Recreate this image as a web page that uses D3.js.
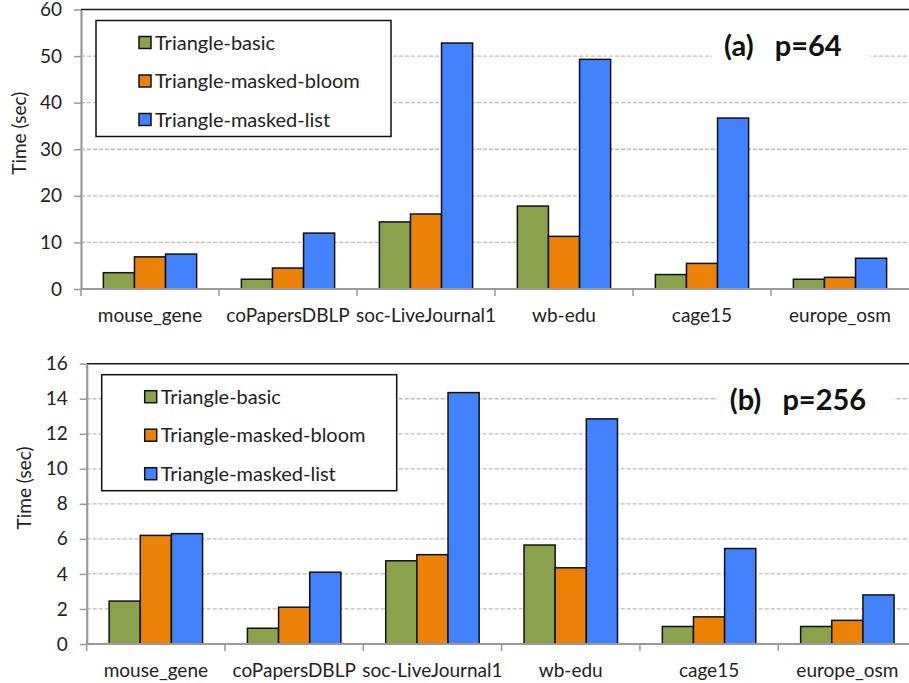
<!DOCTYPE html>
<html>
<head>
<meta charset="utf-8">
<script src="https://cdn.jsdelivr.net/npm/d3@7"></script>
<style>
  body { margin: 0; background: #fff; }
  svg { display: block; font-family: Lato, "Open Sans", sans-serif; }
</style>
</head>
<body>
<svg id="chart" width="909" height="683"></svg>
<script>
// datasets on the x axis
const categories = ["mouse_gene", "coPapersDBLP", "soc-LiveJournal1", "wb-edu", "cage15", "europe_osm"];
const seriesNames = ["Triangle-basic", "Triangle-masked-bloom", "Triangle-masked-list"];
const seriesColors = ["#8aa24c", "#ec8108", "#4282fd"];

// (a) p=64, time in sec
const basic64 = [3.5, 2.1, 14.4, 17.8, 3.1, 2.1];
const bloom64 = [6.9, 4.5, 16.1, 11.3, 5.5, 2.5];
const list64 = [7.5, 12.0, 52.8, 49.3, 36.7, 6.6];
const ticks64 = [0, 10, 20, 30, 40, 50, 60];

// (b) p=256, time in sec
const basic256 = [2.45, 0.9, 4.75, 5.65, 1.0, 1.0];
const bloom256 = [6.2, 2.1, 5.1, 4.35, 1.55, 1.35];
const list256 = [6.3, 4.1, 14.35, 12.85, 5.45, 2.8];
const ticks256 = [0, 2, 4, 6, 8, 10, 12, 14, 16];

let svg = d3.select("#chart");

function drawPanel(opts) {
  let g = svg.append("g");
  let series = [opts.basic, opts.bloom, opts.list];
  let yMax = opts.ticks[opts.ticks.length - 1];

  let x = d3.scaleBand()
    .domain(categories)
    .range([opts.left, opts.left + opts.step * categories.length]);

  let xi = d3.scaleBand()
    .domain(seriesNames)
    .range([0, x.bandwidth()])
    .paddingOuter(0.72);

  let y = d3.scaleLinear()
    .domain([0, yMax])
    .range([opts.bottom, opts.top]);

  let right = opts.left + opts.step * categories.length;

  // dashed grid lines
  g.append("g").selectAll("line")
    .data(opts.ticks.filter(t => t > 0 && t < yMax))
    .enter().append("line")
    .attr("x1", opts.left).attr("x2", right)
    .attr("y1", d => y(d)).attr("y2", d => y(d))
    .attr("stroke", "#bdbdbd")
    .attr("stroke-width", 1.3)
    .attr("stroke-dasharray", "4,2");

  // solid line at the top
  g.append("line")
    .attr("x1", opts.left).attr("x2", right)
    .attr("y1", y(yMax)).attr("y2", y(yMax))
    .attr("stroke", "#1a1a1a")
    .attr("stroke-width", 1.5);

  // title with white background (hides grid line behind it)
  let title = g.append("text")
    .attr("x", opts.left + 643)
    .attr("y", y(yMax) + 46)
    .attr("font-weight", "bold")
    .attr("font-size", 29)
    .attr("fill", "#111")
    .attr("xml:space", "preserve")
    .text(opts.title);
  let bb = title.node().getBBox();
  g.insert("rect", "text")
    .attr("x", bb.x - 12).attr("y", bb.y)
    .attr("width", bb.width + 40).attr("height", bb.height)
    .attr("fill", "#fff");

  // bars
  let groups = g.append("g").selectAll("g")
    .data(categories)
    .enter().append("g")
    .attr("transform", d => `translate(${x(d)},0)`);

  groups.selectAll("rect")
    .data((d, i) => seriesNames.map((s, k) => ({ s: s, k: k, v: series[k][i] })))
    .enter().append("rect")
    .attr("x", d => xi(d.s))
    .attr("width", xi.bandwidth())
    .attr("y", d => y(d.v))
    .attr("height", d => y(0) - y(d.v))
    .attr("fill", d => seriesColors[d.k])
    .attr("stroke", "#111")
    .attr("stroke-width", 1.5);

  // y axis
  let yAxis = g.append("g")
    .attr("transform", `translate(${opts.left},0)`)
    .call(d3.axisLeft(y).tickValues(opts.ticks).tickSize(7).tickPadding(12).tickSizeOuter(0));
  yAxis.select(".domain").attr("stroke", "#9a9a9a").attr("stroke-width", 2.2);
  yAxis.selectAll(".tick line").attr("stroke", "#9a9a9a").attr("stroke-width", 1.5);
  yAxis.selectAll("text")
    .attr("font-size", 19)
    .attr("font-family", "Lato, sans-serif")
    .attr("fill", "#222");

  // x axis line with ticks between categories
  g.append("line")
    .attr("x1", opts.left).attr("x2", right)
    .attr("y1", y(0)).attr("y2", y(0))
    .attr("stroke", "#9a9a9a").attr("stroke-width", 2.2);
  g.append("g").selectAll("line")
    .data(categories)
    .enter().append("line")
    .attr("x1", d => x(d)).attr("x2", d => x(d))
    .attr("y1", y(0)).attr("y2", y(0) + 7)
    .attr("stroke", "#9a9a9a").attr("stroke-width", 1.5);

  g.append("g").selectAll("text")
    .data(categories)
    .enter().append("text")
    .attr("x", d => x(d) + x.bandwidth() / 2)
    .attr("y", y(0) + 33)
    .attr("text-anchor", "middle")
    .attr("font-size", 19)
    .attr("fill", "#222")
    .text(d => d);

  // y axis label
  g.append("text")
    .attr("transform", `translate(${opts.left - 62},${(opts.top + opts.bottom) / 2 - 16}) rotate(-90)`)
    .attr("text-anchor", "middle")
    .attr("dy", "0.35em")
    .attr("font-size", 19)
    .attr("fill", "#222")
    .text("Time (sec)");

  // legend
  let lg = g.append("g")
    .attr("transform", `translate(${opts.left + 15},${opts.top + 11})`);
  lg.append("rect")
    .attr("width", 295).attr("height", 116)
    .attr("fill", "#fff")
    .attr("stroke", "#111")
    .attr("stroke-width", 1.5);
  let items = lg.selectAll("g.item")
    .data(seriesNames)
    .enter().append("g")
    .attr("class", "item")
    .attr("transform", (d, i) => `translate(43,${22 + i * 38.5})`);
  items.append("rect")
    .attr("x", 0).attr("y", -6)
    .attr("width", 12).attr("height", 12)
    .attr("fill", (d, i) => seriesColors[i])
    .attr("stroke", "#111")
    .attr("stroke-width", 1.5);
  items.append("text")
    .attr("x", 16)
    .attr("dy", "0.36em")
    .attr("font-size", 20)
    .attr("fill", "#222")
    .text(d => d);
}

drawPanel({
  basic: basic64, bloom: bloom64, list: list64, ticks: ticks64,
  left: 81, step: 138, top: 9.5, bottom: 289, title: "(a)   p=64"
});

drawPanel({
  basic: basic256, bloom: bloom256, list: list256, ticks: ticks256,
  left: 86.7, step: 138.3, top: 363.7, bottom: 644, title: "(b)   p=256"
});
</script>
</body>
</html>
